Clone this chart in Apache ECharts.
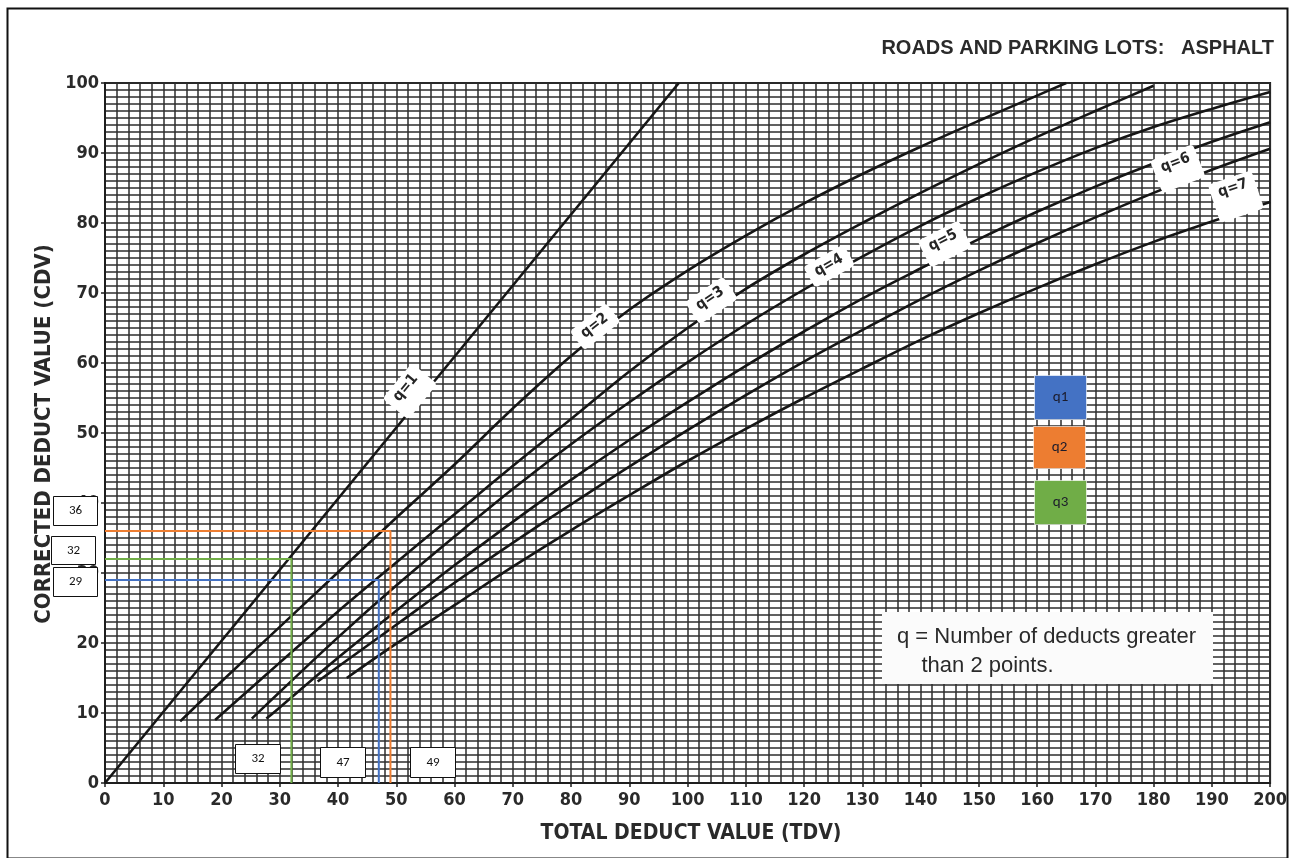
<!DOCTYPE html>
<html>
<head>
<meta charset="utf-8">
<script src="https://cdn.jsdelivr.net/npm/echarts@6/dist/echarts.min.js"></script>
<style>
  html, body { margin: 0; padding: 0; background: #ffffff; }
  #chart { width: 1290px; height: 858px; }
</style>
</head>
<body>
<div id="chart"></div>
<script>
// Corrected deduct value curves, asphalt roads and parking lots: [TDV, CDV]
const curveQ1 = [[0, 0], [98.5, 100]];
const curveQ2 = [[12.9, 8.8], [20, 14.5], [30, 22.3], [40, 30.1], [50, 37.9], [60, 45.5], [70, 53.5],
                 [80, 61.0], [90, 67.6], [100, 73.2], [110, 78.2], [120, 82.8], [130, 87.0], [140, 90.9],
                 [150, 94.6], [160, 98.2], [165, 100]];
const curveQ3 = [[18.9, 9.0], [25, 13.5], [30, 17.2], [40, 24.5], [50, 31.5], [60, 38.4], [70, 45.3],
                 [80, 52.0], [90, 58.8], [100, 65.0], [110, 70.6], [120, 75.5], [130, 80.0], [140, 84.3],
                 [150, 88.4], [160, 92.3], [170, 96.0], [180, 99.6]];
const curveQ4 = [[25.2, 9.2], [30, 13.0], [40, 20.8], [50, 28.2], [60, 35.2], [70, 42.0], [80, 48.4],
                 [90, 54.4], [100, 60.1], [110, 65.5], [120, 70.5], [130, 75.2], [140, 79.6], [150, 83.6],
                 [160, 87.3], [170, 90.7], [180, 93.7], [190, 96.3], [200, 98.7]];
const curveQ5 = [[27.7, 9.2], [30, 10.8], [40, 17.9], [50, 24.6], [60, 31.1], [70, 37.3], [80, 43.3],
                 [90, 49.0], [100, 54.4], [110, 59.6], [120, 64.5], [130, 69.2], [140, 73.5], [150, 77.7],
                 [160, 81.6], [170, 85.2], [180, 88.5], [190, 91.6], [200, 94.4]];
const curveQ6 = [[36.5, 14.5], [40, 16.6], [50, 22.6], [60, 28.6], [70, 34.3], [80, 39.8], [90, 45.2],
                 [100, 50.4], [110, 55.4], [120, 60.2], [130, 64.7], [140, 69.1], [150, 73.2], [160, 77.1],
                 [170, 80.8], [180, 84.3], [190, 87.6], [200, 90.6]];
const curveQ7 = [[41.5, 15.0], [50, 19.9], [60, 25.4], [70, 30.9], [80, 36.1], [90, 41.1], [100, 46.0],
                 [110, 50.6], [120, 55.0], [130, 59.2], [140, 63.3], [150, 67.1], [160, 70.7], [170, 74.1],
                 [180, 77.3], [190, 80.2], [200, 83.0]];

const curves = [curveQ1, curveQ2, curveQ3, curveQ4, curveQ5, curveQ6, curveQ7];
const curveNames = ['q=1', 'q=2', 'q=3', 'q=4', 'q=5', 'q=6', 'q=7'];
// TDV where each curve carries its name tag
const curveTagTDV = [54, 85, 105, 125, 145, 185, 195];

// Worked lookups: TDV read down to the axis, CDV read across
const lookupNames = ['q1', 'q2', 'q3'];
const lookupTDV = [47, 49, 32];
const lookupCDV = [29, 36, 32];
const lookupColors = ['#4472C4', '#ED7D31', '#70AD47'];

// Axis ticks
const tdvTicks = [0, 10, 20, 30, 40, 50, 60, 70, 80, 90, 100, 110, 120, 130, 140, 150, 160, 170, 180, 190, 200];
const cdvTicks = [0, 10, 20, 30, 40, 50, 60, 70, 80, 90, 100];

const chart = echarts.init(document.getElementById('chart'), null, { renderer: 'canvas' });

const GRID_LINE = '#2e2e2e';
const TICK_FONT = "'Liberation Sans Narrow', 'Arial Narrow', 'DejaVu Sans Condensed', sans-serif";
const BODY_FONT = "'Liberation Sans', Arial, sans-serif";
const BOX_FONT = "Carlito, 'Open Sans', 'Liberation Sans', sans-serif";
// how far (px) each tag's text sits off its curve, toward the upper left
const TAG_LIFT = [18, 9, 12, 9, 15, 20, 25];

function curveAt(pts, x) {
  for (let i = 0; i < pts.length - 1; i++) {
    const a = pts[i], b = pts[i + 1];
    if (x >= a[0] && x <= b[0]) {
      return a[1] + (b[1] - a[1]) * (x - a[0]) / (b[0] - a[0]);
    }
  }
  return pts[pts.length - 1][1];
}

const curveSeries = curves.map((pts, i) => ({
  type: 'line',
  name: curveNames[i],
  data: pts,
  smooth: i === 0 ? false : 0.35,
  symbol: 'none',
  z: 3,
  lineStyle: { color: '#161616', width: 2.6 },
  silent: true
}));

const lookupSeries = lookupTDV.map((t, i) => ({
  type: 'line',
  name: lookupNames[i],
  data: [[tdvTicks[0], lookupCDV[i]], [t, lookupCDV[i]], [t, cdvTicks[0]]],
  symbol: 'none',
  z: 4,
  lineStyle: { color: lookupColors[i], width: 2 },
  silent: true
}));

// White name tags laid along each curve
const tagSeries = {
  type: 'custom',
  name: 'tags',
  coordinateSystem: 'cartesian2d',
  data: curveTagTDV.map((x, i) => [x, curveAt(curves[i], x), i]),
  encode: { x: 0, y: 1 },
  z: 6,
  silent: true,
  renderItem: (params, api) => {
    const i = api.value(2);
    const x = api.value(0);
    const pts = curves[i];
    const p = api.coord([x, api.value(1)]);
    const a = api.coord([x - 3, curveAt(pts, x - 3)]);
    const b = api.coord([x + 3, curveAt(pts, x + 3)]);
    const rot = Math.atan2(a[1] - b[1], b[0] - a[0]);
    const lift = TAG_LIFT[i];
    return {
      type: 'group', x: p[0], y: p[1], rotation: rot,
      children: [
        { type: 'rect', shape: { x: -23, y: -lift - 11, width: 46, height: lift + 15, r: 4 },
          style: { fill: '#ffffff' } },
        { type: 'text', x: 0, y: -lift,
          style: { text: curveNames[i], align: 'center', verticalAlign: 'middle',
                   font: 'bold 15px ' + TICK_FONT, fill: '#262626' } }
      ]
    };
  }
};

function box(x, y, w, h, txt) {
  return {
    type: 'group', left: x, top: y,
    children: [
      { type: 'rect', z: 40, shape: { x: 0, y: 0, width: w, height: h },
        style: { fill: '#ffffff', stroke: '#111111', lineWidth: 1 } },
      { type: 'text', z: 41, x: w / 2, y: h / 2,
        style: { text: txt, fill: '#111111', font: '13px ' + BOX_FONT, align: 'center', verticalAlign: 'middle' } }
    ]
  };
}

function legendBox(x, y, w, h, fill, txt) {
  return {
    type: 'group', left: x, top: y,
    children: [
      { type: 'rect', z: 40, shape: { x: 0, y: 0, width: w, height: h },
        style: { fill: fill, stroke: 'rgba(255,255,255,0.6)', lineWidth: 1 } },
      { type: 'text', z: 41, x: w / 2, y: h / 2,
        style: { text: txt, fill: '#1b1b2b', font: '15px ' + BOX_FONT, align: 'center', verticalAlign: 'middle' } }
    ]
  };
}

const graphics = [
  // outer frame
  { type: 'rect', left: 5, top: 6, z: 50, shape: { x: 0, y: 0, width: 1280, height: 850 },
    style: { fill: 'none', stroke: '#111111', lineWidth: 2 } },
  // heading
  { type: 'text', right: 16, top: 38, z: 40,
    style: { text: 'ROADS AND PARKING LOTS:   ASPHALT', fill: '#2a2a2a',
             font: 'bold 20px ' + BODY_FONT } },
  // axis titles
  { type: 'text', x: 691, y: 834, z: 40,
    style: { text: 'TOTAL DEDUCT VALUE (TDV)', fill: '#2a2a2a', font: 'bold 21px ' + TICK_FONT,
             align: 'center', verticalAlign: 'middle' } },
  { type: 'text', x: 44, y: 434, rotation: Math.PI / 2, z: 40,
    style: { text: 'CORRECTED DEDUCT VALUE (CDV)', fill: '#2a2a2a', font: 'bold 22px ' + TICK_FONT,
             align: 'center', verticalAlign: 'middle' } },
  // note
  { type: 'rect', left: 882, top: 612, z: 35, shape: { x: 0, y: 0, width: 331, height: 72 },
    style: { fill: '#fbfbfb' } },
  { type: 'text', left: 897, top: 622, z: 36,
    style: { text: 'q = Number of deducts greater\n    than 2 points.', fill: '#2a2a2a',
             font: '22px ' + BODY_FONT, lineHeight: 29 } },
  // value boxes
  box(53, 496, 44, 29, String(lookupCDV[1])),
  box(51, 536, 44, 28, String(lookupCDV[2])),
  box(53, 567, 44, 29, String(lookupCDV[0])),
  box(235, 744, 45, 29, String(lookupTDV[2])),
  box(320, 747, 45, 30, String(lookupTDV[0])),
  box(410, 747, 45, 30, String(lookupTDV[1])),
  // key
  legendBox(1034, 375, 52, 44, lookupColors[0], lookupNames[0]),
  legendBox(1033, 426, 52, 42, lookupColors[1], lookupNames[1]),
  legendBox(1034, 480, 52, 44, lookupColors[2], lookupNames[2])
];

const option = {
  animation: false,
  backgroundColor: '#ffffff',
  grid: { left: 105, top: 83, right: 14, bottom: 75, show: true, borderColor: '#1e1e1e', borderWidth: 2,
          backgroundColor: 'transparent' },
  xAxis: {
    type: 'value', min: tdvTicks[0], max: tdvTicks[tdvTicks.length - 1], interval: 10,
    axisLine: { show: true, onZero: false, lineStyle: { color: '#1e1e1e', width: 2 } },
    axisTick: { show: true, length: 4, lineStyle: { color: '#1e1e1e', width: 1.5 } },
    axisLabel: { show: true, margin: 8, color: '#2a2a2a', fontSize: 18, fontWeight: 'bold', fontFamily: TICK_FONT,
                 formatter: v => tdvTicks.includes(v) ? String(v) : '' },
    splitLine: { show: true, lineStyle: { color: GRID_LINE, width: 1.5 } },
    minorTick: { show: false, splitNumber: 5 },
    minorSplitLine: { show: true, lineStyle: { color: GRID_LINE, width: 1.5 } }
  },
  yAxis: {
    type: 'value', min: cdvTicks[0], max: cdvTicks[cdvTicks.length - 1], interval: 10,
    axisLine: { show: true, onZero: false, lineStyle: { color: '#1e1e1e', width: 2 } },
    axisTick: { show: true, length: 4, lineStyle: { color: '#1e1e1e', width: 1.5 } },
    axisLabel: { show: true, margin: 6, color: '#2a2a2a', fontSize: 18, fontWeight: 'bold', fontFamily: TICK_FONT,
                 formatter: v => cdvTicks.includes(v) ? String(v) : '' },
    splitLine: { show: true, lineStyle: { color: GRID_LINE, width: 1.5 } },
    minorTick: { show: false, splitNumber: 10 },
    minorSplitLine: { show: true, lineStyle: { color: GRID_LINE, width: 1.5 } }
  },
  graphic: graphics,
  series: curveSeries.concat(lookupSeries, [tagSeries])
};

chart.setOption(option);
</script>
</body>
</html>
